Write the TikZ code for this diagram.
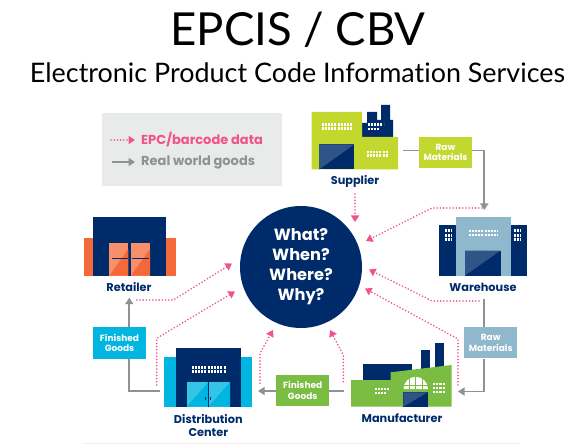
\documentclass[tikz,border=0pt]{standalone}
\usepackage{fontspec}
\setmainfont{Lato}[Ligatures=NoCommon]
\newfontfamily\lblfont{Poppins}
\usetikzlibrary{arrows.meta}
\definecolor{navy}{HTML}{002B6A}
\definecolor{pinkc}{HTML}{F0548A}
\definecolor{greyc}{HTML}{8F9194}
\definecolor{lime}{HTML}{C2D82F}
\definecolor{wblue}{HTML}{90B8CC}
\definecolor{mgreen}{HTML}{7ABD42}
\definecolor{cyanc}{HTML}{00B6E0}
\definecolor{orangec}{HTML}{F4693A}
\definecolor{doorb}{HTML}{2F5488}
\definecolor{legbg}{HTML}{E9EAEA}
\tikzset{
  data/.style={pinkc,line width=1.8pt,line cap=round,dash pattern=on 0pt off 3.2pt,-{Triangle[length=6.5pt,width=8pt,fill=pinkc]}},
  goods/.style={greyc,line width=1.8pt,-{Triangle[length=6.5pt,width=8pt,fill=greyc]}},
  lbl/.style={font=\lblfont\bfseries\fontsize{11.3}{12.3}\selectfont,text=navy,align=center,inner sep=0pt},
  tag/.style={draw=none,minimum width=52.5pt,minimum height=31.5pt,inner sep=0pt,text=white,align=center,font=\lblfont\bfseries\fontsize{9}{10.4}\selectfont},
  hub/.style={circle,fill=navy,minimum size=122pt,inner sep=0pt,text=white,align=center,font=\lblfont\bfseries\fontsize{16.2}{20}\selectfont},
  win/.style={white,line width=2.1pt,dash pattern=on 2.1pt off 1.1pt},
  legtext/.style={anchor=west,inner sep=0pt,font=\lblfont\bfseries\fontsize{13}{14}\selectfont},
}
\begin{document}
\begin{tikzpicture}[x=1pt,y=-1pt]
\useasboundingbox (0,0) rectangle (572,446);
\fill[white] (0,0) rectangle (572,446);
\draw[legbg!70,line width=0.6pt] (82,443.5) -- (520,443.5);

\node[inner sep=0pt,font=\fontsize{45.5}{50}\selectfont] (title) at (298,30) {EPCIS / CBV};
\node[inner sep=0pt,font=\fontsize{26.9}{30}\selectfont] (subtitle) at (297.5,73) {Electronic Product Code Information Services};

% legend
\fill[legbg] (102,113) rectangle (282,186);
\coordinate (la) at (111,140); \coordinate (lb) at (135,140);
\coordinate (lc) at (112,162); \coordinate (ld) at (135,162);
\draw[data] (la) -- (lb);
\draw[goods] (lc) -- (ld);
\node[legtext,text=pinkc] (legdata) at (141,139.5) {EPC/barcode data};
\node[legtext,text=greyc] (leggoods) at (141,162.5) {Real world goods};

% hub
\node[hub] (hub) at (301,267) {What?\\When?\\Where?\\Why?};

% supplier
\fill[navy] (362,137) -- (362,123) -- (367,123) -- (367,112) -- (377,112) -- (377,120) -- (381,120) -- (381,105) -- (390,105) -- (390,120) -- (393,120) -- (393,137) -- cycle;
\fill[lime] (311.5,112) -- (362,112) -- (362,137) -- (398,137) -- (398,169.5) -- (311.5,169.5) -- cycle;
\fill[navy] (319,144.5) rectangle (354,169.5);
\fill[doorb] (319,144.5) -- (354,144.5) -- (319,169.5) -- cycle;
\draw[win] (321.5,124.5) -- (351.5,124.5);
\draw[win] (321.5,128.5) -- (351.5,128.5);
\draw[win] (366.5,152) -- (388,152);
\draw[win] (366.5,155.5) -- (388,155.5);
\draw[win] (367.5,124.5) -- (383.5,124.5);
\draw[win] (367.5,129) -- (379,129);
\node[lbl] (supplier) at (355,181) {Supplier};

% warehouse
\fill[navy] (439.3,224.5) rectangle (526.5,275.5);
\fill[wblue] (455.7,216.7) rectangle (510.7,275.5);
\fill[navy] (465,250.5) rectangle (500.5,275.5);
\fill[doorb] (465,250.5) -- (500.5,250.5) -- (465,275.5) -- cycle;
\draw[win] (468.5,231) -- (498,231);
\draw[win] (468.5,235) -- (498,235);
\draw[win] (445,230.5) -- (452,230.5);
\draw[win] (445,235.5) -- (452,235.5);
\draw[win] (445,239.5) -- (452,239.5);
\draw[win] (513.5,230.5) -- (521,230.5);
\draw[win] (513.5,235.5) -- (521,235.5);
\draw[win] (513.5,239.5) -- (521,239.5);
\node[lbl] (warehouse) at (483,287) {Warehouse};

% manufacturer
\fill[navy] (363.3,364) rectangle (412,385);
\fill[navy] (421.3,350) rectangle (430.3,372);
\fill[navy] (435.3,342.7) rectangle (444,372);
\fill[mgreen] (351,380) -- (390.7,380) -- (390.7,372.3) -- (451.7,365) -- (451.7,406.7) -- (351,406.7) -- cycle;
\fill[navy] (403.3,392.3) rectangle (427.7,406.7);
\fill[doorb] (403.3,392.3) -- (427.7,392.3) -- (403.3,406.7) -- cycle;
\fill[white] (403.5,389) arc[start angle=180,end angle=360,x radius=12.2,y radius=12.2] -- cycle;
\foreach \sx in {409,415.5,422} \draw[mgreen,line width=0.9pt] (\sx,376) -- (\sx,389);
\draw[mgreen,line width=0.9pt] (403,385) -- (428,385);
\draw[win] (374.5,389) -- (390,389);
\draw[win] (374.5,393) -- (386,393);
\draw[win] (433,384) -- (445,384);
\draw[win] (433,388) -- (445,388);
\draw[win] (433,392) -- (445,392);
\node[lbl] (manufacturer) at (402,418) {Manufacturer};

% distribution center
\fill[cyanc] (164.3,356.7) rectangle (252.3,406.7);
\fill[navy] (176,348.3) rectangle (240.7,406.7);
\fill[cyanc!80!white] (186.7,382.3) rectangle (230,406.7);
\fill[cyanc] (186.7,406.7) -- (208.3,382.3) -- (208.3,406.7) -- cycle;
\fill[cyanc] (208.3,406.7) -- (230,382.3) -- (230,406.7) -- cycle;
\draw[navy,line width=0.4pt] (208.3,382.3) -- (208.3,406.7);
\draw[navy,line width=0.7pt] (205.5,397) -- (205.5,400) (210.5,397) -- (210.5,400);
\draw[win] (191.5,367.5) -- (225.5,367.5);
\draw[win] (191.5,371.5) -- (225.5,371.5);
\node[lbl] (dc) at (208.3,425.5) {Distribution\\Center};

% retailer
\fill[orangec] (83.7,238.3) rectangle (175.7,275.7);
\fill[navy] (93.3,217.3) rectangle (166,275.7);
\fill[orangec!75!white] (109.3,242.7) rectangle (128.3,275.7);
\fill[orangec!75!white] (131,242.7) rectangle (150,275.7);
\fill[orangec] (109.3,275.7) -- (128.3,249) -- (128.3,275.7) -- cycle;
\fill[orangec] (131,275.7) -- (150,249) -- (150,275.7) -- cycle;
\draw[navy,line width=1pt] (111.5,258.3) -- (128,258.3) (132,258.3) -- (148.5,258.3);
\node[lbl] (retailer) at (129,287) {Retailer};

% tags
\node[tag,fill=lime] (rawa) at (445.5,152.3) {Raw\\Materials};
\node[tag,fill=wblue] (rawb) at (490.7,342.7) {Raw\\Materials};
\node[tag,fill=mgreen] (fga) at (302.7,390.5) {Finished\\Goods};
\node[tag,fill=cyanc] (fgb) at (119.5,342.8) {Finished\\Goods};

% goods flows
\coordinate (s1) at (403,150.5);
\coordinate (s2) at (484.3,150.5);
\coordinate (s3) at (484.3,210);
\draw[goods,-] (s1) -- (rawa.west |- s1);
\draw[goods] (rawa.east |- s1) -- (s2) -- (s3);
\coordinate (w1) at (484.3,299);
\coordinate (w2) at (484.3,391.5);
\coordinate (w3) at (458,391.5);
\draw[goods,-] (w1) -- (w1 |- rawb.north);
\draw[goods] (w2 |- rawb.south) -- (w2) -- (w3);
\coordinate (m1) at (344.3,391);
\coordinate (m2) at (258,391);
\draw[goods,-] (m1) -- (fga.east |- m1);
\draw[goods] (fga.west |- m1) -- (m2);
\coordinate (d1) at (160,391);
\coordinate (d2) at (129.3,391);
\coordinate (d3) at (129.3,297.7);
\draw[goods,-] (d1) -- (d2) -- (d2 |- fgb.south);
\draw[goods] (d3 |- fgb.north) -- (d3);

% data flows
\coordinate (a1) at (355,194); \coordinate (a2) at (355,222);
\draw[data] (a1) -- (a2);
\coordinate (b1) at (482,208); \coordinate (b2) at (432,208); \coordinate (b3) at (366,241);
\draw[data] (b1) -- (b2) -- (b3);
\coordinate (c1) at (479,301); \coordinate (c2) at (432,301); \coordinate (c3) at (369,269.5);
\draw[data] (c1) -- (c2) -- (c3);
\coordinate (e1) at (458,385); \coordinate (e2) at (458,339); \coordinate (e3) at (365,288.5);
\draw[data] (e1) -- (e2) -- (e3);
\coordinate (f1) at (343.3,381.7); \coordinate (f2) at (343.3,355); \coordinate (f3) at (330,330);
\draw[data] (f1) -- (f2) -- (f3);
\coordinate (g1) at (260,383.3); \coordinate (g2) at (260,353.3); \coordinate (g3) at (273,330);
\draw[data] (g1) -- (g2) -- (g3);
\coordinate (h1) at (156.7,385); \coordinate (h2) at (156.7,338.3); \coordinate (h3) at (235,291.5);
\draw[data] (h1) -- (h2) -- (h3);
\coordinate (i1) at (136.7,300); \coordinate (i2) at (173.3,300); \coordinate (i3) at (232,263.5);
\draw[data] (i1) -- (i2) -- (i3);
\end{tikzpicture}
\end{document}
